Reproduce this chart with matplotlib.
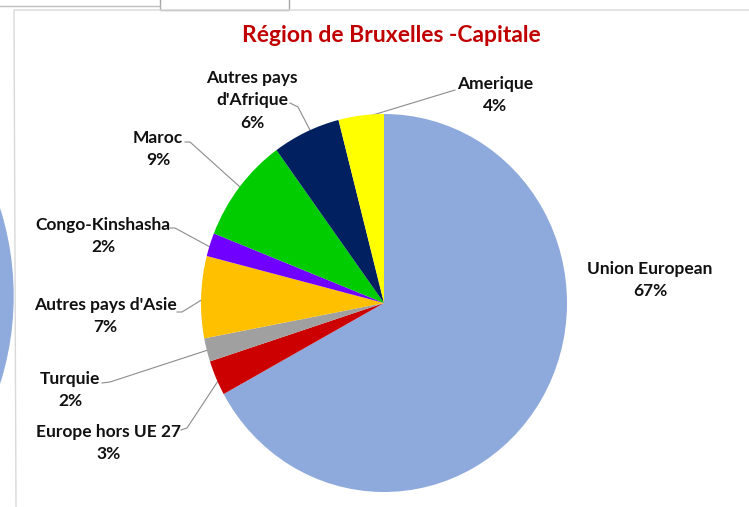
import matplotlib.pyplot as plt
from matplotlib.patches import Circle, Rectangle

W, H = 749, 507

labels = ["Union European", "Europe hors UE 27", "Turquie", "Autres pays d'Asie",
          "Congo-Kinshasha", "Maroc", "Autres pays\nd'Afrique", "Amerique"]
values = [67, 3, 2, 7, 2, 9, 6, 4]
colors = ["#8EA9DB", "#CC0000", "#A0A0A0", "#FFC000",
          "#7000FF", "#00CC00", "#002060", "#FFFF00"]

# label centres (image pixels) and leader-line points
label_pos = [(650, 280), (109, 443), (70, 390), (105, 316),
             (103, 236), (158, 149), (252, 100), (495, 95)]
leaders = [None,
           [(181, 430), (187, 428), (218, 381)],
           [(102, 383), (110, 382), (208, 350)],
           [(177, 312), (182, 312), (203, 299)],
           [(170, 228), (175, 228), (210, 247)],
           [(185, 142), (190, 142), (240, 187)],
           [(290, 103), (298, 107), (311, 132)],
           [(455, 90), (363, 118)]]

plt.rcParams['font.family'] = ['Lato', 'DejaVu Sans']

fig = plt.figure(figsize=(W / 100, H / 100), dpi=100)
ax = fig.add_axes([0, 0, 1, 1])
ax.set_xlim(0, W)
ax.set_ylim(0, H)
ax.axis('off')

# screenshot leftovers: neighbouring chart and frame
ax.add_patch(Circle((-278, H - 296), 291, color="#8FAADC", zorder=0))
ax.plot([16, 14, W], [0, H - 10, H - 10], color="#D9D9D9", lw=1)
ax.plot([0, 160], [H - 6, H - 6], color="#BFBFBF", lw=1)
ax.add_patch(Rectangle((160, H - 10), 129, 12, fill=False, ec="#A6A6A6", lw=1))

# pie in its own axes (slightly squeezed horizontally, as in the screenshot)
cx, cy, rx, ry = 384, 303, 183, 189
pax = fig.add_axes([(cx - rx) / W, (H - cy - ry) / H, 2 * rx / W, 2 * ry / H])
pax.pie(values, colors=colors, startangle=90, counterclock=False,
        radius=1, wedgeprops=dict(linewidth=0))
pax.set_aspect('auto')
pax.set_xlim(-1, 1)
pax.set_ylim(-1, 1)
pax.axis('off')

for lab, v, (x, y) in zip(labels, values, label_pos):
    ax.text(x, H - y, f"{lab}\n{v}%", ha='center', va='center',
            fontsize=12.5, fontweight='bold', color='#111111', linespacing=1.5)

for pts in leaders:
    if pts:
        ax.plot([p[0] for p in pts], [H - p[1] for p in pts],
                color='#8C8C8C', lw=0.8)

ax.text(391, H - 35, "Région de Bruxelles -Capitale", ha='center', va='center',
        fontsize=16.5, fontweight='bold', color='#C00000')

fig.savefig("out.png", dpi=100)
